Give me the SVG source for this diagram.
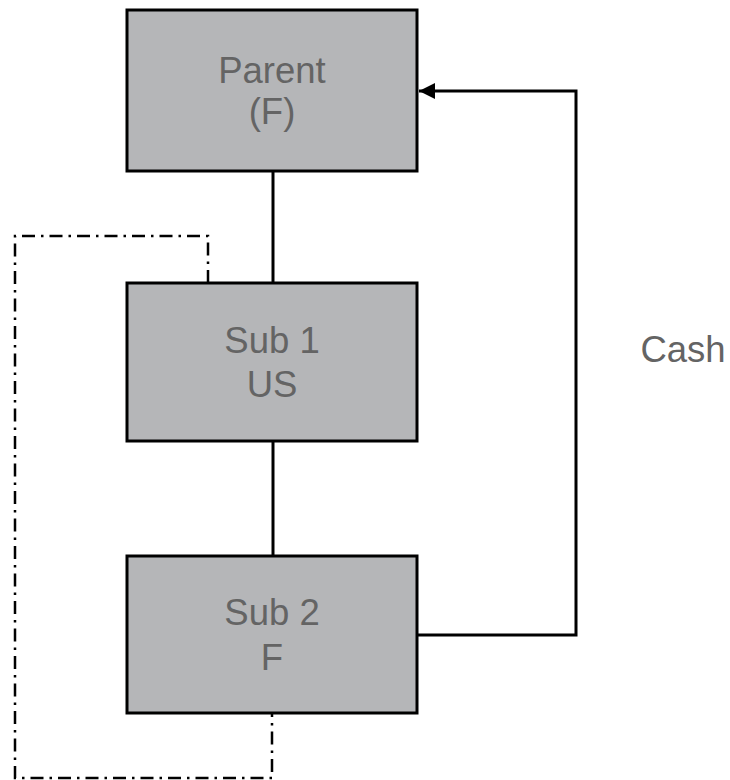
<svg xmlns="http://www.w3.org/2000/svg" width="730" height="780" viewBox="0 0 730 780">
  <style>
    .box { fill: #b5b6b8; stroke: #000; stroke-width: 3; }
    .lbl { font-family: "Liberation Sans", Arial, sans-serif; font-size: 36.5px; fill: #646464; text-anchor: middle; }
    .link { fill: none; stroke: #000; stroke-width: 3; }
    .dashdot { fill: none; stroke: #000; stroke-width: 2.5; stroke-dasharray: 13 6 2.5 6; }
  </style>
  <defs>
    <marker id="arrow" viewBox="0 0 16 16" refX="16" refY="8" markerWidth="16" markerHeight="16" markerUnits="userSpaceOnUse" orient="auto">
      <path d="M0,0 L16,8 L0,16 Z" fill="#000"/>
    </marker>
  </defs>

  <g id="connectors">
    <!-- ownership lines -->
    <line class="link" x1="273" y1="171" x2="273" y2="283"/>
    <line class="link" x1="273" y1="441" x2="273" y2="556"/>
    <!-- cash flow from Sub 2 back to Parent -->
    <polyline class="link" points="417,635 576,635 576,91 419,91" marker-end="url(#arrow)"/>
    <!-- dash-dot loop from Sub 1 around to Sub 2 -->
    <polyline class="dashdot" points="208,283 208,236 15,236 15,778 272,778 272,713"/>
  </g>

  <g id="parent">
    <rect class="box" x="127" y="10" width="290" height="161"/>
    <text class="lbl" x="272" y="83">Parent</text>
    <text class="lbl" x="272" y="124">(F)</text>
  </g>

  <g id="sub1">
    <rect class="box" x="127" y="283" width="290" height="158"/>
    <text class="lbl" x="272" y="353">Sub 1</text>
    <text class="lbl" x="272" y="397">US</text>
  </g>

  <g id="sub2">
    <rect class="box" x="127" y="556" width="290" height="157"/>
    <text class="lbl" x="272" y="625">Sub 2</text>
    <text class="lbl" x="272" y="670">F</text>
  </g>

  <g id="cash-label">
    <text class="lbl" x="683" y="362">Cash</text>
  </g>
</svg>
